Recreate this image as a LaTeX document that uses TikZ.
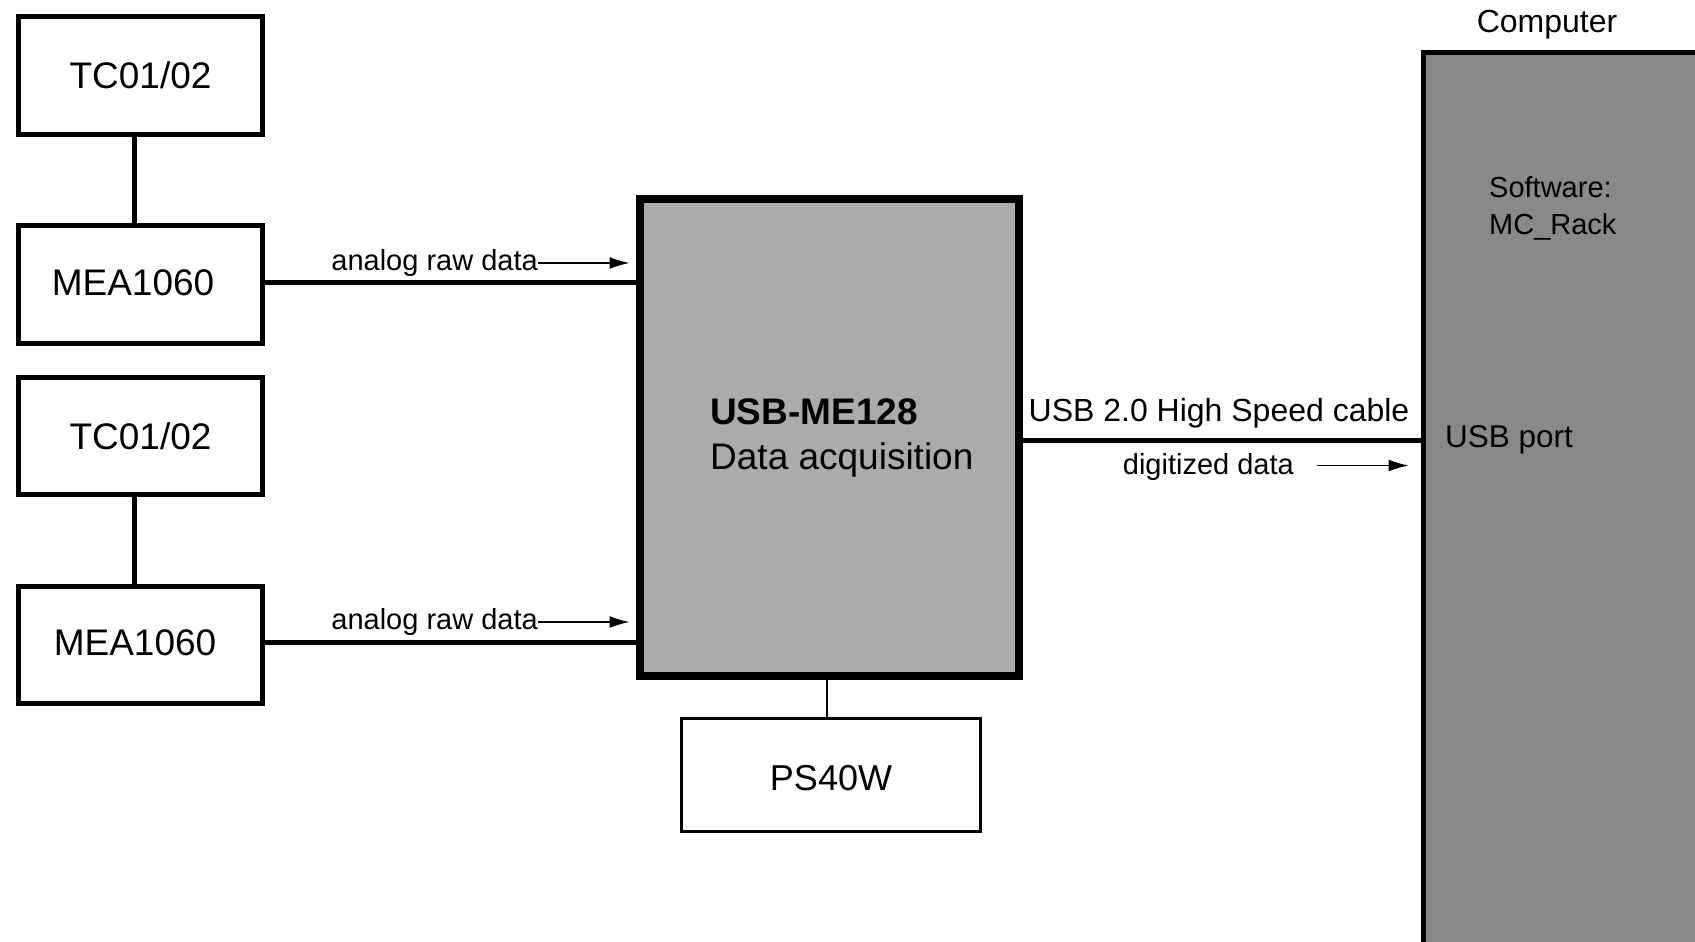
\documentclass[tikz,border=0pt]{standalone}
\usepackage{fontspec}
\setmainfont{Liberation Sans}
\usetikzlibrary{arrows.meta}
\definecolor{daqgray}{RGB}{171,171,171}
\definecolor{compgray}{RGB}{137,137,137}
\begin{document}
\begin{tikzpicture}[x=1pt,y=-1pt,
  box/.style={draw,line width=5pt,inner sep=0pt,minimum width=244pt,font=\fontsize{37}{44}\selectfont},
  wire/.style={line width=5pt},
  arr/.style={line width=1.5pt,-{Latex[length=20pt,width=12pt]}},
  lbl/.style={inner sep=0pt,font=\fontsize{29}{35}\selectfont}]
\useasboundingbox (0,0) rectangle (1695,942);
\clip (0,0) rectangle (1695,942);

% left boxes
\node[box,minimum height=118pt] (tc1) at (140.5,75.5) {TC01/02};
\node[box,minimum height=118pt] (mea1) at (140.5,284.5) {\hspace*{-15pt}\raisebox{2pt}[\height][\depth]{MEA1060}};
\node[box,minimum height=117pt] (tc2) at (140.5,436) {TC01/02};
\node[box,minimum height=117pt] (mea2) at (140.5,645) {\hspace*{-11pt}\raisebox{2pt}[\height][\depth]{MEA1060}};

% data acquisition
\node[draw,line width=8pt,fill=daqgray,minimum width=379pt,minimum height=477pt,inner sep=0pt] (daq) at (829,437.5) {};
\node[anchor=west,align=left,inner sep=0pt,font=\fontsize{37}{45}\selectfont] (daqtxt) at (710,437.5) {\textbf{USB-ME128}\\Data acquisition};

% power supply
\node[draw,line width=3pt,minimum width=299pt,minimum height=113pt,inner sep=0pt,font=\fontsize{36}{43}\selectfont] (ps) at (831,775) {\raisebox{-3pt}[\height][\depth]{PS40W}};

% computer
\node[draw,line width=5pt,fill=compgray,minimum width=400pt,minimum height=920pt,inner sep=0pt,anchor=north west] (comp) at (1420.5,50.5) {};
\node[inner sep=0pt,font=\fontsize{32}{38}\selectfont] (comptitle) at (1547,25) {Computer};
\node[anchor=west,align=left,inner sep=0pt,font=\fontsize{29}{37}\selectfont] (sw) at (1489,208) {Software:\\MC\_Rack};
\node[anchor=west,inner sep=0pt,font=\fontsize{31.5}{38}\selectfont] (port) at (1445,440) {USB port};

% connectors
\draw[wire] ([xshift=-6.5pt]tc1.south) -- ([xshift=-6.5pt]mea1.north);
\draw[wire] ([xshift=-6.5pt]tc2.south) -- ([xshift=-6.5pt]mea2.north);
\draw[wire] ([yshift=2.5pt]mea1.east) -- ([yshift=2.5pt]mea1.east -| daq.west);
\draw[wire] ([yshift=3pt]mea2.east) -- ([yshift=3pt]mea2.east -| daq.west);
\draw[line width=2.5pt] ([xshift=-4pt]daq.south -| ps.north) -- ([xshift=-4pt]ps.north);
\draw[wire] ([yshift=-2.5pt]daq.east) -- ([yshift=-2.5pt]daq.east -| comp.west);

% labels and arrows
\node[lbl,anchor=east] (l1) at (538,263) {analog raw data};
\draw[arr] (l1.east) -- ([xshift=-6pt]l1.east -| daq.west);
\node[lbl,anchor=east] (l2) at (538,622) {analog raw data};
\draw[arr] (l2.east) -- ([xshift=-6pt]l2.east -| daq.west);

\node[inner sep=0pt,font=\fontsize{32}{38}\selectfont] (cable) at (1219,413) {USB 2.0 High Speed cable};
\node[lbl,anchor=east] (dig) at (1294,467) {digitized data};
\draw[arr] ([xshift=23pt,yshift=1.5pt]dig.east) -- ([xshift=-12pt,yshift=1.5pt]dig.east -| comp.west);
\end{tikzpicture}
\end{document}
